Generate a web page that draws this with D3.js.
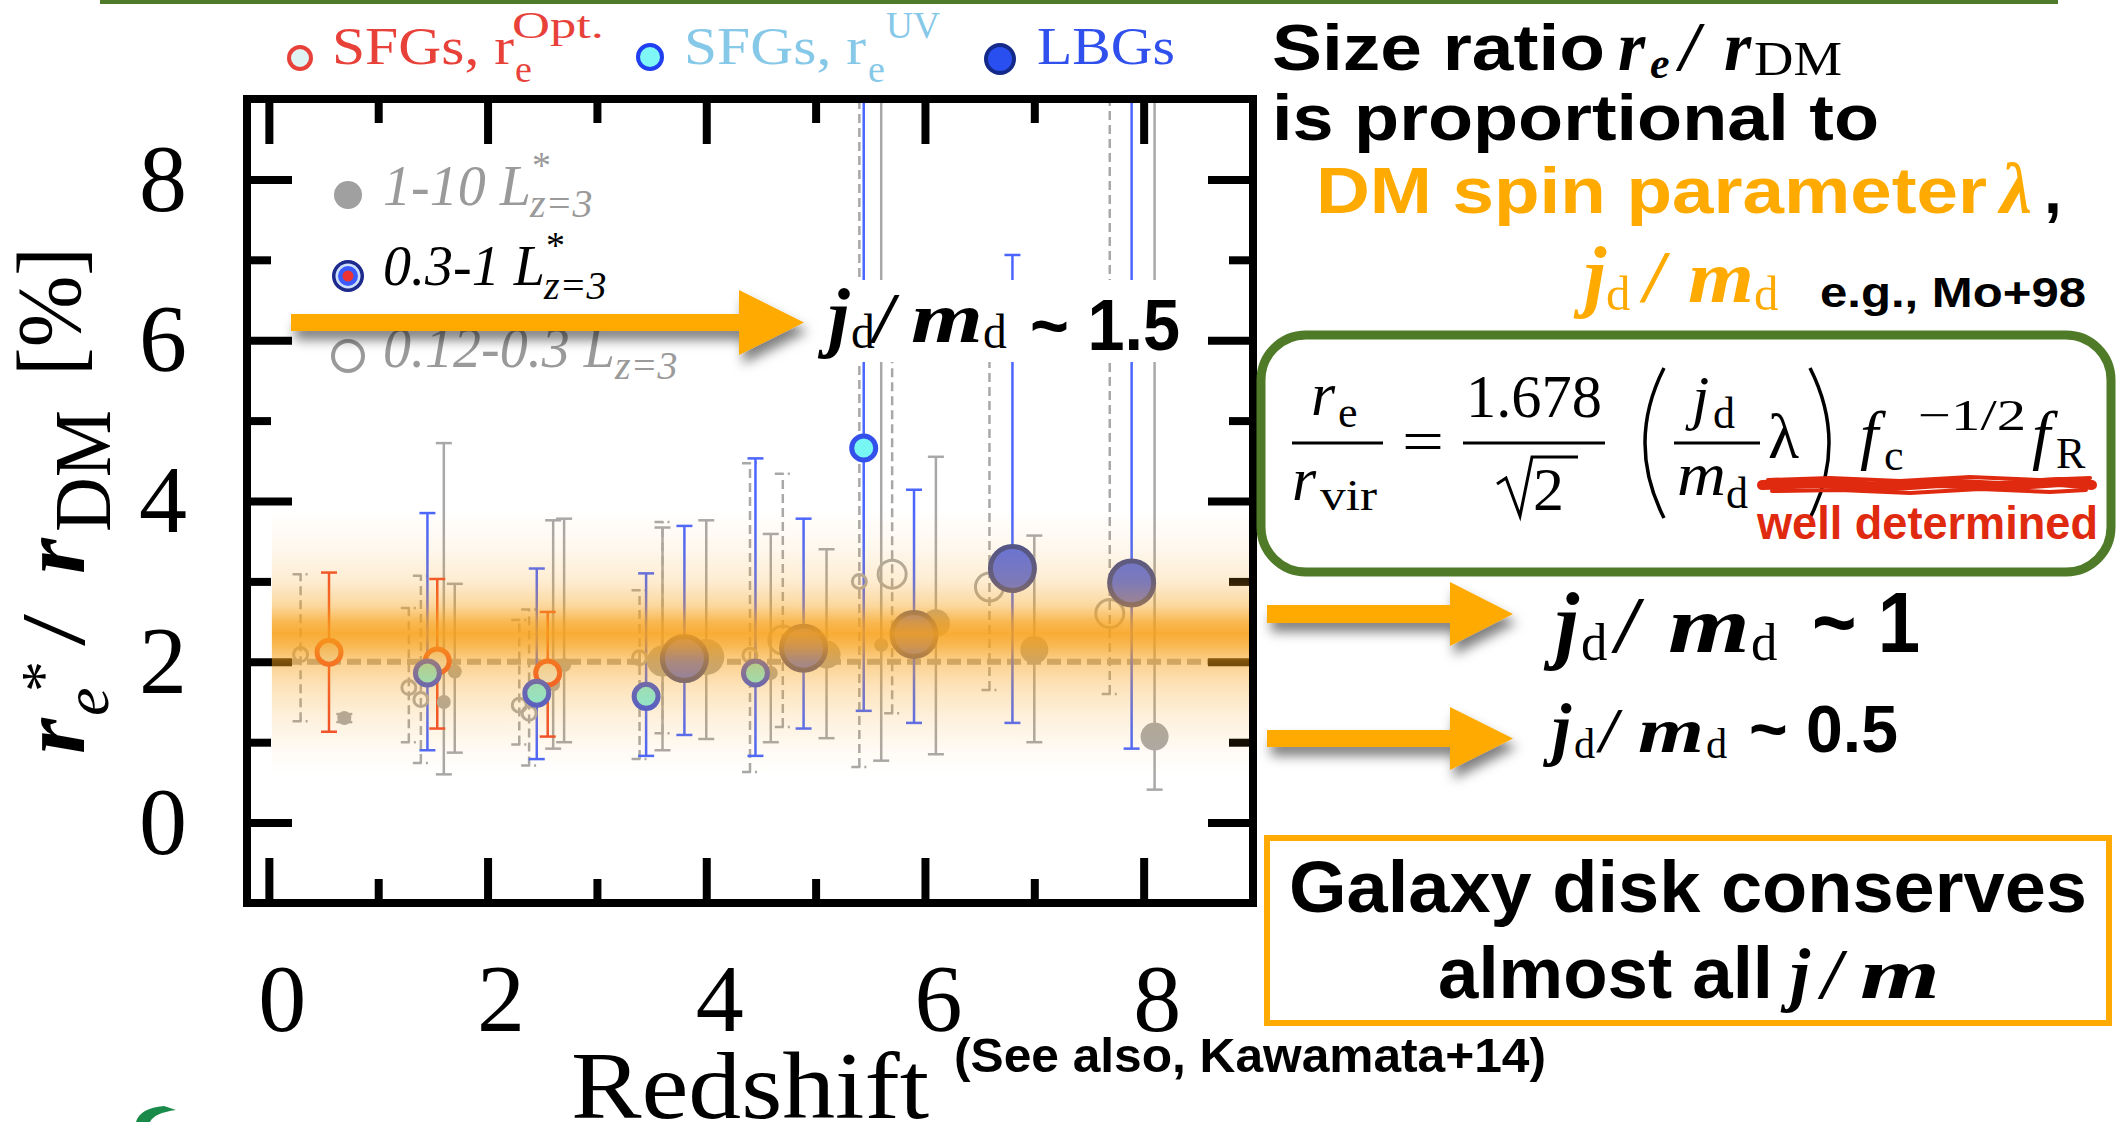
<!DOCTYPE html>
<html><head><meta charset="utf-8">
<script src="https://cdn.jsdelivr.net/npm/d3@7"></script>
<style>body{margin:0;background:#fff;} svg{display:block}</style>
</head><body>
<svg id="c" width="2119" height="1122"></svg>
<script>
// ---------- data ----------
const xTicks = [0, 2, 4, 6, 8];
const xMinor = [1, 3, 5, 7];
const yTicks = [0, 2, 4, 6, 8];
const yMinor = [1, 3, 5, 7];

// SFGs, optical sizes
const sfgOptZ  = [0.55, 1.54, 2.55];
const sfgOptV  = [2.12, 2.01, 1.86];
const sfgOptLo = [1.13, 1.17, 1.07];
const sfgOptHi = [3.11, 3.03, 2.62];

// SFGs, UV sizes
const sfgUvZ  = [1.45, 2.45, 3.45, 4.45, 5.44];
const sfgUvV  = [1.86, 1.61, 1.57, 1.86, 4.66];
const sfgUvLo = [0.90, 0.79, 0.83, 0.83, 1.39];
const sfgUvHi = [3.85, 3.16, 3.10, 4.53, 9.5];

// LBGs
const lbgZ  = [3.80, 4.89, 5.90, 6.80, 7.89];
const lbgV  = [2.04, 2.17, 2.34, 3.16, 2.98];
const lbgLo = [1.09, 1.17, 1.24, 1.24, 0.92];
const lbgHi = [3.69, 3.78, 4.14, 7.06, 9.5];

// 1-10 L* bin (filled); class = sample-size class
const brightZ  = [0.69, 1.60, 1.70, 2.60, 2.70, 3.60, 4.00, 4.59, 5.10, 5.60, 6.10, 7.00, 8.10];
const brightV  = [1.30, 1.50, 1.88, 1.72, 1.96, 2.00, 2.06, 1.86, 2.09, 2.21, 2.48, 2.15, 1.07];
const brightLo = [1.25, 0.60, 0.87, 0.92, 1.00, 0.90, 1.04, 1.00, 1.05, 0.77, 0.85, 1.00, 0.41];
const brightHi = [1.35, 4.72, 2.97, 3.76, 3.78, 3.67, 3.76, 3.59, 3.40, 9.5, 4.55, 3.57, 9.5];
const brightC  = [1, 1, 1, 1, 1, 2, 3, 1, 2, 1, 2, 2, 2];

// 0.12-0.3 L* bin (open)
const faintZ  = [0.29, 1.28, 1.39, 2.29, 2.38, 3.39, 3.60, 4.40, 4.70, 5.40, 5.70, 6.59, 7.69];
const faintV  = [2.09, 1.68, 1.53, 1.46, 1.36, 2.05, 2.01, 2.08, 2.27, 3.00, 3.09, 2.93, 2.60];
const faintLo = [1.26, 1.00, 0.74, 0.97, 0.71, 0.79, 1.11, 0.63, 1.19, 0.69, 1.36, 1.65, 1.60];
const faintHi = [3.09, 2.67, 3.07, 2.52, 2.65, 2.89, 3.74, 4.47, 4.34, 9.5, 6.2, 6.2, 9.5];
const faintC  = [1, 1, 1, 1, 1, 1, 2, 1, 2, 1, 2, 2, 2];

// model band: size ratio vs. relative density of the shading
const bandV = [3.9, 3.4, 3.0, 2.7, 2.5, 2.35, 2.2, 2.0, 1.7, 1.3, 0.9, 0.6];
const bandW = [0, 0.08, 0.2, 0.42, 0.75, 0.88, 0.75, 0.5, 0.3, 0.15, 0.05, 0];
const bandZ = [0, 9];
const refRatio = 2;

// ---------- setup ----------
const SERIF = "'Liberation Serif','DejaVu Serif',serif";
const SANS = "'Liberation Sans',Arial,sans-serif";
const ORANGE = "#ffaa00";
const svg = d3.select("#c");
svg.append("rect").attr("width", 2119).attr("height", 1122).attr("fill", "#fff");

const defs = svg.append("defs");
const sh = defs.append("filter").attr("id", "shadow").attr("x", "-20%").attr("y", "-60%").attr("width", "140%").attr("height", "260%");
sh.append("feDropShadow").attr("dx", 4).attr("dy", 9).attr("stdDeviation", 6).attr("flood-color", "#000").attr("flood-opacity", 0.5);
defs.append("clipPath").attr("id", "plotclip").append("rect").attr("x", 247).attr("y", 99).attr("width", 1006).attr("height", 804);

const x = d3.scaleLinear().domain([-0.2, 9]).range([247, 1253]);
const y = d3.scaleLinear().domain([-1, 9]).range([903, 99]);

function txt(p, s, tx, ty, o) {
  const t = p.append("text").attr("x", tx).attr("y", ty).text(s)
    .attr("font-family", o.family || SERIF).attr("font-size", o.size)
    .attr("fill", o.fill || "#000");
  if (o.weight) t.attr("font-weight", o.weight);
  if (o.style) t.attr("font-style", o.style);
  if (o.len) t.attr("textLength", o.len).attr("lengthAdjust", "spacingAndGlyphs");
  if (o.anchor) t.attr("text-anchor", o.anchor);
  return t;
}

// top rule
svg.append("rect").attr("x", 100).attr("y", 0).attr("width", 1958).attr("height", 4).attr("fill", "#4f7a2a");

// ---------- plot ----------
const plot = svg.append("g");
const data = plot.append("g").attr("clip-path", "url(#plotclip)");

// reference ratio
data.append("line").attr("x1", 247).attr("x2", 1253).attr("y1", y(refRatio)).attr("y2", y(refRatio))
  .attr("stroke", "#aaa").attr("stroke-width", 6).attr("stroke-dasharray", "14 6");

function rows(zs, vs, lo, hi, cls) {
  return zs.map((z, i) => ({ z, v: vs[i], lo: lo[i], hi: hi[i], c: cls ? cls[i] : 1 }));
}
const optRows = rows(sfgOptZ, sfgOptV, sfgOptLo, sfgOptHi);
const uvRows = rows(sfgUvZ, sfgUvV, sfgUvLo, sfgUvHi);
const lbgRows = rows(lbgZ, lbgV, lbgLo, lbgHi);
const brightRows = rows(brightZ, brightV, brightLo, brightHi, brightC);
const faintRows = rows(faintZ, faintV, faintLo, faintHi, faintC);

function errorBars(rs, color, dash) {
  const g = data.append("g").attr("stroke", color).attr("stroke-width", 2.5).attr("fill", "none");
  const e = g.selectAll("g").data(rs).enter().append("g");
  e.append("line").attr("x1", d => x(d.z)).attr("x2", d => x(d.z))
    .attr("y1", d => y(d.lo)).attr("y2", d => y(d.hi)).attr("stroke-dasharray", dash || null);
  ["lo", "hi"].forEach(k => {
    e.append("line").attr("x1", d => x(d.z) - 8).attr("x2", d => x(d.z) + 8)
      .attr("y1", d => y(d[k])).attr("y2", d => y(d[k])).attr("stroke-dasharray", dash ? "9 4 2 4" : null);
  });
}
errorBars(faintRows, "#a8a8a8", "9 5");
errorBars(brightRows, "#a8a8a8");
errorBars(optRows, "#f04a2a");
errorBars(uvRows, "#4a66ff");
errorBars(lbgRows, "#4a66ff");

const rClass = d3.scaleOrdinal().domain([1, 2, 3]).range([7, 14, 18]);
data.append("g").selectAll("circle").data(brightRows).enter().append("circle")
  .attr("cx", d => x(d.z)).attr("cy", d => y(d.v)).attr("r", d => rClass(d.c)).attr("fill", "#a9a9a9");
data.append("g").selectAll("circle").data(faintRows).enter().append("circle")
  .attr("cx", d => x(d.z)).attr("cy", d => y(d.v)).attr("r", d => rClass(d.c))
  .attr("fill", "none").attr("stroke", "#aaa").attr("stroke-width", 3);
data.append("g").selectAll("circle").data(optRows).enter().append("circle")
  .attr("cx", d => x(d.z)).attr("cy", d => y(d.v)).attr("r", 12)
  .attr("fill", "#eef6f2").attr("stroke", "#f04a2a").attr("stroke-width", 5);
data.append("g").selectAll("circle").data(uvRows).enter().append("circle")
  .attr("cx", d => x(d.z)).attr("cy", d => y(d.v)).attr("r", 12)
  .attr("fill", "#78f6f4").attr("stroke", "#3450ea").attr("stroke-width", 5);
data.append("g").selectAll("circle").data(lbgRows).enter().append("circle")
  .attr("cx", d => x(d.z)).attr("cy", d => y(d.v)).attr("r", 22)
  .attr("fill", "#5f70e0").attr("stroke", "#48508e").attr("stroke-width", 5);

// frame and ticks
function styleAxis(g) {
  g.select(".domain").remove();
  g.selectAll(".tick line").attr("stroke", "#000").attr("stroke-width", 8);
  g.attr("font-family", SERIF).attr("font-size", 96);
  g.selectAll(".tick text").attr("fill", "#000");
}
plot.append("g").attr("transform", "translate(0,903)")
  .call(d3.axisBottom(x).tickValues(xTicks).tickSize(-45).tickPadding(60).tickFormat(d3.format("d"))).call(styleAxis)
  .selectAll(".tick text").attr("dx", 13);
plot.append("g").attr("transform", "translate(0,903)")
  .call(d3.axisBottom(x).tickValues(xMinor).tickSize(-24).tickFormat("")).call(styleAxis);
plot.append("g").attr("transform", "translate(0,99)")
  .call(d3.axisTop(x).tickValues(xTicks).tickSize(-45).tickFormat("")).call(styleAxis);
plot.append("g").attr("transform", "translate(0,99)")
  .call(d3.axisTop(x).tickValues(xMinor).tickSize(-24).tickFormat("")).call(styleAxis);
plot.append("g").attr("transform", "translate(247,0)")
  .call(d3.axisLeft(y).tickValues(yTicks).tickSize(-45).tickPadding(60).tickFormat(d3.format("d"))).call(styleAxis);
plot.append("g").attr("transform", "translate(247,0)")
  .call(d3.axisLeft(y).tickValues(yMinor).tickSize(-24).tickFormat("")).call(styleAxis);
plot.append("g").attr("transform", "translate(1253,0)")
  .call(d3.axisRight(y).tickValues(yTicks).tickSize(-45).tickFormat("")).call(styleAxis);
plot.append("g").attr("transform", "translate(1253,0)")
  .call(d3.axisRight(y).tickValues(yMinor).tickSize(-24).tickFormat("")).call(styleAxis);
plot.append("rect").attr("x", 247).attr("y", 99).attr("width", 1006).attr("height", 804)
  .attr("fill", "none").attr("stroke", "#000").attr("stroke-width", 8);

// model band drawn over the data
const grad = defs.append("linearGradient").attr("id", "bandGrad").attr("gradientUnits", "userSpaceOnUse")
  .attr("x1", 0).attr("x2", 0).attr("y1", y(bandV[0])).attr("y2", y(bandV[bandV.length - 1]));
const gy0 = y(bandV[0]), gy1 = y(bandV[bandV.length - 1]);
bandV.forEach((v, i) => {
  grad.append("stop").attr("offset", (y(v) - gy0) / (gy1 - gy0))
    .attr("stop-color", "#f7a11a").attr("stop-opacity", bandW[i]);
});
plot.append("rect").attr("x", x(bandZ[0]) + 3).attr("width", 1249 - x(bandZ[0]) - 3)
  .attr("y", gy0).attr("height", gy1 - gy0).attr("fill", "url(#bandGrad)");

// axis titles
const yt = svg.append("g").attr("transform", "translate(84,754) rotate(-90)");
txt(yt, "r", 0, 0, { size: 92, style: "italic", weight: "bold" });
txt(yt, "e", 38, 24, { size: 64, style: "italic" });
txt(yt, "*", 62, -21, { size: 62 });
txt(yt, "/", 108, 0, { size: 92, len: 32 });
txt(yt, "r", 180, 0, { size: 92, style: "italic", weight: "bold" });
txt(yt, "DM", 222, 26, { size: 80, len: 122 });
txt(yt, "[%]", 378, -4, { size: 90, len: 129 });

txt(svg, "Redshift", 571, 1118, { size: 95, len: 358 });

// top legend
svg.append("circle").attr("cx", 300).attr("cy", 58).attr("r", 11).attr("fill", "#dff3f3").attr("stroke", "#e8413a").attr("stroke-width", 4);
txt(svg, "SFGs, r", 332, 64, { size: 52, fill: "#e8413a", len: 182 });
txt(svg, "e", 515, 82, { size: 38, fill: "#e8413a" });
txt(svg, "Opt.", 512, 38, { size: 38, fill: "#e8413a", len: 92 });
svg.append("circle").attr("cx", 650).attr("cy", 57).attr("r", 12).attr("fill", "#7ff7f7").attr("stroke", "#1f3ff0").attr("stroke-width", 4);
txt(svg, "SFGs, r", 684, 64, { size: 52, fill: "#86c8e8", len: 182 });
txt(svg, "e", 868, 82, { size: 38, fill: "#86c8e8" });
txt(svg, "UV", 886, 38, { size: 38, fill: "#86c8e8", len: 54 });
svg.append("circle").attr("cx", 1000).attr("cy", 59).attr("r", 14).attr("fill", "#2a4ff0").attr("stroke", "#142a8a").attr("stroke-width", 4);
txt(svg, "LBGs", 1037, 64, { size: 52, fill: "#3050ee", len: 138 });

// luminosity legend
const lg = svg.append("g");
lg.append("circle").attr("cx", 348).attr("cy", 195).attr("r", 14).attr("fill", "#a0a0a0");
txt(lg, "1-10 L", 383, 205, { size: 56, style: "italic", fill: "#9a9a9a" });
txt(lg, "*", 532, 178, { size: 38, fill: "#9a9a9a" });
txt(lg, "z=3", 530, 217, { size: 40, style: "italic", fill: "#9a9a9a" });
lg.append("circle").attr("cx", 348).attr("cy", 276).attr("r", 16).attr("fill", "#1c2a8c");
lg.append("circle").attr("cx", 348).attr("cy", 276).attr("r", 12.5).attr("fill", "#cfe0ff");
lg.append("circle").attr("cx", 348).attr("cy", 276).attr("r", 10).attr("fill", "#3a5cff");
lg.append("circle").attr("cx", 348).attr("cy", 276).attr("r", 5.5).attr("fill", "#ee3333");
txt(lg, "0.3-1 L", 383, 285, { size: 56, style: "italic" });
txt(lg, "*", 546, 258, { size: 38 });
txt(lg, "z=3", 544, 299, { size: 40, style: "italic" });
lg.append("circle").attr("cx", 348).attr("cy", 356).attr("r", 15).attr("fill", "none").attr("stroke", "#9a9a9a").attr("stroke-width", 4);
txt(lg, "0.12-0.3 L", 383, 367, { size: 56, style: "italic", fill: "#9a9a9a" });
txt(lg, "*", 616, 340, { size: 38, fill: "#9a9a9a" });
txt(lg, "z=3", 615, 379, { size: 40, style: "italic", fill: "#9a9a9a" });

// arrows
function arrow(p, x0, hb, tip, cy, t, h) {
  p.append("path").attr("d",
    `M${x0},${cy - t / 2}L${hb},${cy - t / 2}L${hb},${cy - h / 2}L${tip},${cy}L${hb},${cy + h / 2}L${hb},${cy + t / 2}L${x0},${cy + t / 2}Z`)
    .attr("fill", ORANGE).attr("filter", "url(#shadow)");
}
// j_d / m_d with explicit glyph placement
function jm(p, o) {
  txt(p, "j", o.j, o.base, { size: o.fs * 1.08, style: "italic", weight: "bold", fill: o.fill });
  txt(p, "d", o.d1, o.base + o.sub, { size: o.fs * 0.66, fill: o.fill });
  txt(p, "/", o.sl, o.base, { size: o.fs, style: "italic", weight: "bold", fill: o.fill });
  txt(p, "m", o.m, o.base, { size: o.fs, style: "italic", weight: "bold", fill: o.fill, len: o.mw });
  txt(p, "d", o.d2, o.base + o.sub, { size: o.fs * 0.66, fill: o.fill });
}

svg.append("rect").attr("x", 805).attr("y", 280).attr("width", 395).attr("height", 82).attr("fill", "#fff");
arrow(svg, 291, 739, 804, 322.5, 17, 65);
jm(svg, { j: 828, d1: 851, sl: 874, m: 911, mw: 72, d2: 983, base: 342, sub: 6, fs: 72, fill: "#000" });
txt(svg, "~ 1.5", 1030, 350, { family: SANS, size: 72, weight: "bold", len: 150 });

// right-hand notes
const note = svg.append("g");
txt(note, "Size ratio", 1272, 70, { family: SANS, size: 64, weight: "bold", len: 333 });
txt(note, "r", 1618, 70, { size: 70, style: "italic", weight: "bold" });
txt(note, "e", 1650, 78, { size: 44, style: "italic", weight: "bold" });
txt(note, "/", 1680, 70, { size: 70, style: "italic", weight: "bold" });
txt(note, "r", 1724, 70, { size: 70, style: "italic", weight: "bold" });
txt(note, "DM", 1754, 75, { size: 48, len: 88 });
txt(note, "is proportional to", 1272, 140, { family: SANS, size: 64, weight: "bold", len: 607 });
txt(note, "DM spin parameter", 1316, 213, { family: SANS, size: 64, weight: "bold", fill: ORANGE, len: 671 });
txt(note, "λ", 2000, 213, { size: 72, style: "italic", weight: "bold", fill: ORANGE });
txt(note, ",", 2044, 213, { family: SANS, size: 64, weight: "bold" });
jm(note, { j: 1584, d1: 1606, sl: 1644, m: 1688, mw: 66, d2: 1754, base: 302, sub: 8, fs: 74, fill: ORANGE });
txt(note, "e.g., Mo+98", 1820, 307, { family: SANS, size: 42, weight: "bold", len: 266 });

// formula box
const eq = svg.append("g");
eq.append("rect").attr("x", 1261).attr("y", 335).attr("width", 850).attr("height", 237).attr("rx", 45)
  .attr("fill", "#fff").attr("stroke", "#4f7a28").attr("stroke-width", 9);
const bar = (x1, x2) => eq.append("line").attr("x1", x1).attr("x2", x2).attr("y1", 443).attr("y2", 443).attr("stroke", "#000").attr("stroke-width", 3);
txt(eq, "r", 1311, 415, { size: 62, style: "italic" });
txt(eq, "e", 1338, 427, { size: 44 });
bar(1292, 1383);
txt(eq, "r", 1292, 500, { size: 62, style: "italic" });
txt(eq, "vir", 1320, 510, { size: 44, len: 57 });
txt(eq, "=", 1402, 462, { size: 62, len: 42 });
txt(eq, "1.678", 1466, 417, { size: 62, len: 136 });
bar(1463, 1605);
eq.append("path").attr("d", "M1497,484L1506,478L1520,516L1532,457L1578,457").attr("fill", "none").attr("stroke", "#000").attr("stroke-width", 3);
txt(eq, "2", 1533, 510, { size: 62 });
eq.append("path").attr("d", "M1664,368Q1626,443 1664,518").attr("fill", "none").attr("stroke", "#000").attr("stroke-width", 3.5);
txt(eq, "j", 1692, 418, { size: 62, style: "italic" });
txt(eq, "d", 1713, 428, { size: 44 });
bar(1674, 1760);
txt(eq, "m", 1677, 495, { size: 62, style: "italic", len: 49 });
txt(eq, "d", 1726, 508, { size: 44 });
txt(eq, "λ", 1768, 458, { size: 64 });
eq.append("path").attr("d", "M1810,368Q1848,443 1810,518").attr("fill", "none").attr("stroke", "#000").attr("stroke-width", 3.5);
txt(eq, "f", 1860, 457, { size: 66, style: "italic" });
txt(eq, "c", 1884, 470, { size: 44 });
txt(eq, "−1/2", 1918, 430, { size: 44, len: 108 });
txt(eq, "f", 2032, 457, { size: 66, style: "italic" });
txt(eq, "R", 2056, 468, { size: 44 });
// hand-drawn red underline
const scribble = eq.append("g").attr("fill", "none").attr("stroke", "#e02a10").attr("stroke-linecap", "round");
scribble.append("path").attr("d", "M1762,485L1820,483L1880,487L1940,483L2000,486L2060,482L2092,485").attr("stroke-width", 10);
scribble.append("path").attr("d", "M1768,480L1830,478L1900,481L1970,477L2040,480L2090,478").attr("stroke-width", 4);
scribble.append("path").attr("d", "M1772,491L1840,490L1910,493L1980,489L2050,492L2086,490").attr("stroke-width", 4);
txt(eq, "well determined", 1757, 539, { family: SANS, size: 47, weight: "bold", fill: "#e02a10", len: 341 });

// two more arrows
arrow(svg, 1267, 1450, 1513, 614, 18, 64);
jm(svg, { j: 1555, d1: 1581, sl: 1616, m: 1668, mw: 82, d2: 1751, base: 652, sub: 8, fs: 80, fill: "#000" });
txt(svg, "~ 1", 1812, 652, { family: SANS, size: 86, weight: "bold", len: 108 });
arrow(svg, 1267, 1450, 1513, 738.5, 17, 63);
jm(svg, { j: 1552, d1: 1574, sl: 1600, m: 1638, mw: 66, d2: 1706, base: 752, sub: 6, fs: 64, fill: "#000" });
txt(svg, "~ 0.5", 1749, 752, { family: SANS, size: 66, weight: "bold", len: 149 });

// conclusion box
svg.append("rect").attr("x", 1267).attr("y", 838).attr("width", 842).attr("height", 185)
  .attr("fill", "none").attr("stroke", ORANGE).attr("stroke-width", 6);
txt(svg, "Galaxy disk conserves", 1289, 912, { family: SANS, size: 72, weight: "bold", len: 798 });
txt(svg, "almost all", 1438, 998, { family: SANS, size: 72, weight: "bold", len: 335 });
txt(svg, "j", 1790, 998, { size: 72, style: "italic", weight: "bold" });
txt(svg, "/", 1822, 998, { size: 72, style: "italic", weight: "bold" });
txt(svg, "m", 1860, 998, { size: 72, style: "italic", weight: "bold", len: 80 });

txt(svg, "(See also, Kawamata+14)", 954, 1072, { family: SANS, size: 49, weight: "bold", len: 592 });

// partial logo mark at the lower left
svg.append("path").attr("d", "M136,1122Q140,1108 164,1106L176,1110Q154,1113 150,1122Z").attr("fill", "#1a8a4a");
</script>
</body></html>
